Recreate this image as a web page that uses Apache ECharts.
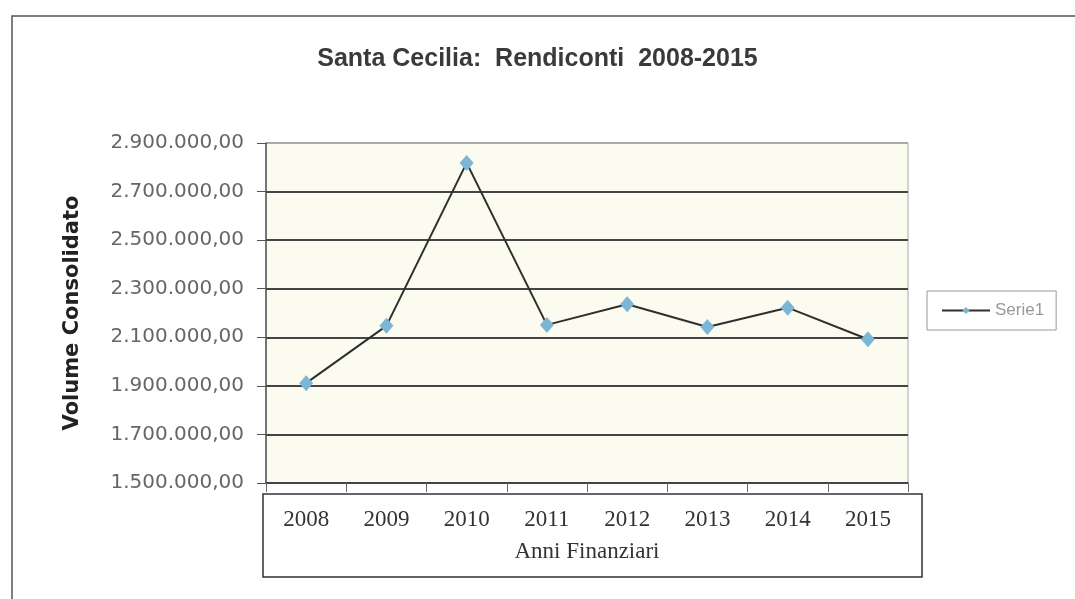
<!DOCTYPE html>
<html>
<head>
<meta charset="utf-8">
<script src="https://cdn.jsdelivr.net/npm/echarts@6/dist/echarts.min.js"></script>
<style>
  html, body { margin: 0; padding: 0; background: #fff; }
  #chartLine { width: 1075px; height: 599px; }
</style>
</head>
<body>
<!-- 图表容器 -->
<div id="chartLine"></div>
<script>
// dati
var anni = ['2008', '2009', '2010', '2011', '2012', '2013', '2014', '2015'];
var serie1 = [1911000, 2147000, 2818000, 2151000, 2236000, 2142000, 2222000, 2092000];
var yMin = 1500000;
var yMax = 2900000;
var yStep = 200000;

function formatIt(v) {
  return String(v).replace(/\B(?=(\d{3})+(?!\d))/g, '.') + ',00';
}

var chartLine = echarts.init(document.getElementById('chartLine'));
var option = {
  backgroundColor: '#ffffff',
  title: {
    text: 'Santa Cecilia:  Rendiconti  2008-2015',
    left: 'center',
    top: 42,
    textStyle: { fontFamily: 'Liberation Sans', fontWeight: 'bold', fontSize: 25, color: '#3a3a3a' }
  },
  legend: {
    data: ['Serie1'],
    left: 927,
    top: 291,
    width: 145,
    padding: [11, 12, 11, 14],
    borderColor: '#999',
    borderWidth: 1,
    itemWidth: 48,
    itemHeight: 9,
    itemGap: 4,
    textStyle: { fontFamily: 'Liberation Sans', fontSize: 17, color: '#999' }
  },
  grid: {
    left: 266,
    right: 167,
    top: 143,
    bottom: 116,
    show: true,
    backgroundColor: '#fcfbf0',
    borderColor: '#aaa',
    borderWidth: 1
  },
  xAxis: {
    type: 'category',
    data: anni,
    boundaryGap: true,
    name: 'Anni Finanziari',
    nameLocation: 'middle',
    nameGap: 57,
    nameTextStyle: { fontFamily: 'Liberation Serif', fontSize: 23, color: '#333' },
    axisLine: { lineStyle: { color: '#444', width: 1.5 } },
    axisTick: { show: true, length: 9, lineStyle: { color: '#666' } },
    axisLabel: { margin: 25, fontFamily: 'Liberation Serif', fontSize: 23, color: '#333' }
  },
  yAxis: {
    type: 'value',
    min: yMin,
    max: yMax,
    interval: yStep,
    name: 'Volume Consolidato',
    nameLocation: 'middle',
    nameGap: 183,
    nameTextStyle: { fontFamily: 'DejaVu Sans', fontWeight: 'bold', fontSize: 21, color: '#222' },
    axisLine: { show: true, lineStyle: { color: '#555', width: 1.5 } },
    axisTick: { show: true, length: 9, lineStyle: { color: '#555' } },
    axisLabel: {
      margin: 22,
      fontFamily: 'DejaVu Sans',
      fontSize: 20,
      color: '#666',
      formatter: formatIt
    },
    splitLine: {
      show: true,
      lineStyle: {
        color: ['#444', '#444', '#444', '#444', '#444', '#444', '#444', '#aaa'],
        width: 1.8
      }
    }
  },
  series: [
    {
      name: 'Serie1',
      type: 'line',
      data: serie1,
      symbol: 'diamond',
      symbolSize: [14, 16],
      itemStyle: { color: '#7db6d4' },
      lineStyle: { color: '#2f2f2f', width: 2 }
    }
  ],
  graphic: [
    {
      type: 'rect',
      shape: { x: 12, y: 16, width: 1100, height: 700 },
      style: { fill: 'none', stroke: '#555', lineWidth: 1.5 },
      silent: true
    },
    {
      type: 'rect',
      shape: { x: 263, y: 494, width: 659, height: 83 },
      style: { fill: 'none', stroke: '#333', lineWidth: 1.5 },
      silent: true
    }
  ]
};
chartLine.setOption(option);
</script>
</body>
</html>
